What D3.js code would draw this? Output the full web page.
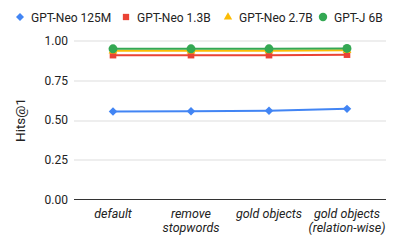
<!DOCTYPE html>
<html lang="en">
<head>
<meta charset="UTF-8">
<title>Hits@1</title>
<style>
  body { margin: 0; background: #fff; }
  svg text { font-family: Roboto, "Noto Sans", sans-serif; fill: #222; }
  .grid line { stroke: #ddd; }
</style>
</head>
<body>
<div id="sv"></div>
<script src="https://cdn.jsdelivr.net/npm/d3@7"></script>
<script>
  var categories = ["default", "remove\nstopwords", "gold objects", "gold objects\n(relation-wise)"];
  var seriesNames = ["GPT-Neo 125M", "GPT-Neo 1.3B", "GPT-Neo 2.7B", "GPT-J 6B"];
  var neo125m = [0.553, 0.555, 0.558, 0.570];
  var neo13b  = [0.908, 0.908, 0.908, 0.911];
  var neo27b  = [0.935, 0.935, 0.936, 0.938];
  var gptj6b  = [0.948, 0.948, 0.948, 0.950];
  var yTicks = [0, 0.25, 0.5, 0.75, 1];

  var colors = ["#4285f4", "#ea4335", "#fbbc04", "#34a853"];
  var symbols = [d3.symbolSquare, d3.symbolSquare, d3.symbolTriangle, d3.symbolCircle];
  var symRot = [45, 0, 0, 0];
  var symSize = [36, 44, 34, 62];
  var series = [neo125m, neo13b, neo27b, gptj6b];

  var W = 399, H = 247;
  var margin = {top: 40.5, right: 13, bottom: 47.5, left: 74};
  var width = W - margin.left - margin.right,
      height = H - margin.top - margin.bottom;

  var svg = d3.select("#sv").append("svg")
      .attr("width", W).attr("height", H);

  var g = svg.append("g")
      .attr("transform", `translate(${margin.left},${margin.top})`);

  var x = d3.scalePoint().domain(categories).range([0, width]).padding(0.5);
  var y = d3.scaleLinear().domain([0, 1]).range([height, 0]);

  // grid lines
  g.append("g").attr("class", "grid")
    .selectAll("line").data(yTicks.filter(d => d > 0)).enter().append("line")
    .attr("x1", 0).attr("x2", width)
    .attr("y1", d => Math.round(y(d)) + 0.5).attr("y2", d => Math.round(y(d)) + 0.5);

  // baseline
  g.append("line")
    .attr("x1", 0).attr("x2", width)
    .attr("y1", y(0)).attr("y2", y(0))
    .attr("stroke", "#333").attr("stroke-width", 1);

  // y axis labels
  var yAxis = d3.axisLeft(y).tickValues(yTicks).tickFormat(d3.format(".2f")).tickSize(0).tickPadding(6);
  g.append("g").call(yAxis)
    .call(a => a.select(".domain").remove())
    .selectAll("text").attr("fill", "#222").attr("font-size", 12)
    .attr("font-family", "Roboto, 'Noto Sans', sans-serif");

  // x axis labels (two lines, italic)
  var xAxis = g.append("g")
    .attr("transform", `translate(0,${height})`);
  xAxis.selectAll("text").data(categories).enter().append("text")
    .attr("text-anchor", "middle")
    .attr("font-style", "italic")
    .attr("font-size", 12.5)
    .attr("transform", d => `translate(${x(d)},0)`)
    .each(function(d) {
      var t = d3.select(this);
      d.split("\n").forEach((s, i) => {
        t.append("tspan").attr("x", 0).attr("y", 18 + i * 14.5).text(s);
      });
    });

  // y title
  svg.append("text")
    .attr("transform", `translate(25,${margin.top + height / 2}) rotate(-90)`)
    .attr("text-anchor", "middle")
    .attr("font-size", 13.5)
    .text("Hits@1");

  // lines and markers
  var line = d3.line().x((d, i) => x(categories[i])).y(d => y(d));
  series.forEach(function(vals, k) {
    g.append("path").datum(vals)
      .attr("d", line)
      .attr("fill", "none")
      .attr("stroke", colors[k])
      .attr("stroke-width", 2);
    g.selectAll(".pt" + k).data(vals).enter().append("path")
      .attr("class", "pt" + k)
      .attr("d", d3.symbol().type(symbols[k]).size(symSize[k]))
      .attr("transform", (d, i) => `translate(${x(categories[i])},${y(d)}) rotate(${symRot[k]})`)
      .attr("fill", colors[k]);
  });

  // legend
  var legX = [20, 126, 228, 323];
  var leg = svg.append("g").attr("transform", "translate(0,17)");
  seriesNames.forEach(function(name, k) {
    leg.append("path")
      .attr("d", d3.symbol().type(symbols[k]).size(symSize[k] * 0.9))
      .attr("transform", `translate(${legX[k]},0) rotate(${symRot[k]})`)
      .attr("fill", colors[k]);
    leg.append("text")
      .attr("x", legX[k] + 11).attr("y", 4.5)
      .attr("font-size", 12)
      .text(name);
  });
</script>
</body>
</html>
